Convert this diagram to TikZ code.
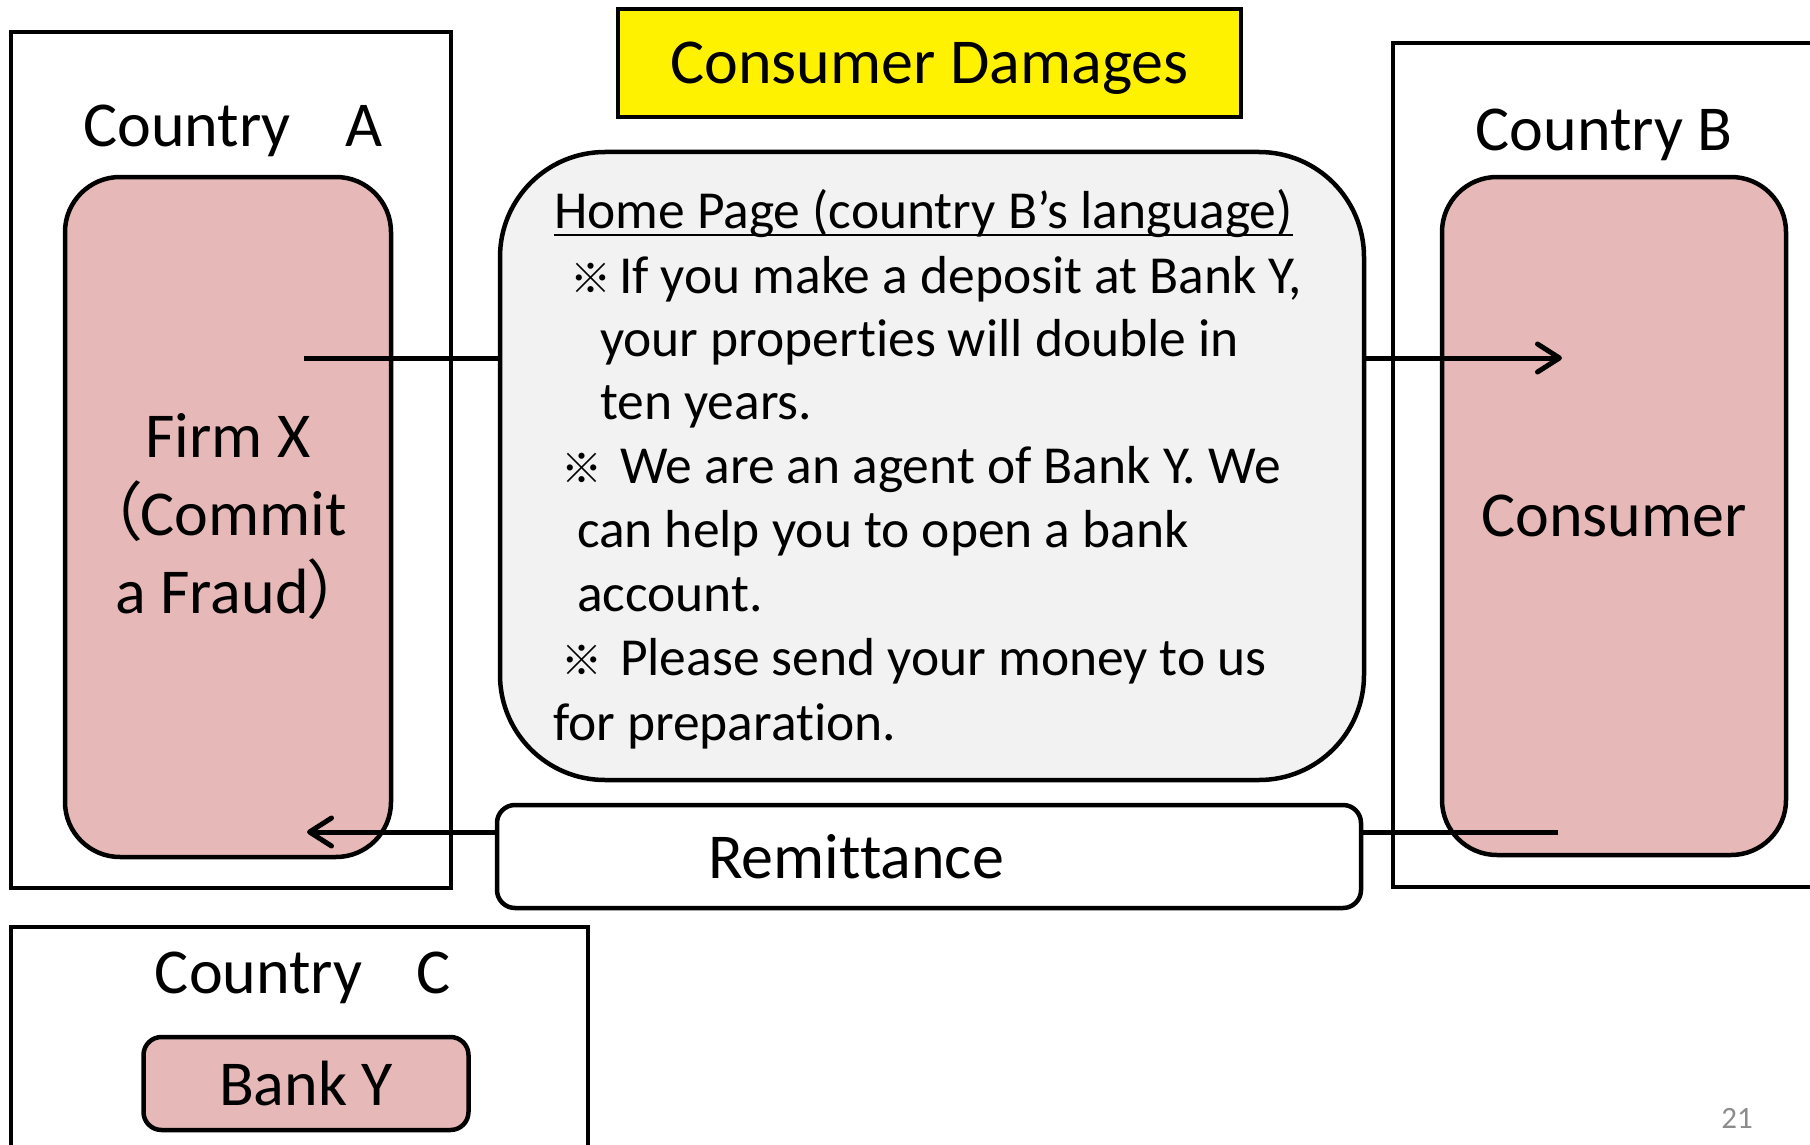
\documentclass[tikz,border=0pt]{standalone}
\usepackage{fontspec}
\setmainfont{Carlito}[Ligatures=NoCommon]
\newfontfamily\cjk{Noto Sans CJK JP}
\newfontfamily\cjkp{Noto Sans CJK JP}[RawFeature=+palt]
\usetikzlibrary{arrows.meta,positioning,calc}
\definecolor{firmpink}{HTML}{E6B9B8}
\definecolor{pagegray}{HTML}{F2F2F2}
\definecolor{numgray}{HTML}{8C8C8C}
\newcommand{\kome}{{\cjk\fontsize{20.5pt}{20pt}\selectfont ※}}

\begin{document}
\begin{tikzpicture}[x=0.5pt,y=-0.5pt,
  every node/.style={inner sep=0pt,outer sep=0pt},
  country/.style={draw,line width=2.25pt,rectangle},
  party/.style={draw,line width=2.25pt,fill=firmpink,rounded corners=27.5pt,
    align=center,font=\fontsize{32pt}{39pt}\selectfont},
  big/.style={font=\fontsize{32pt}{39pt}\selectfont,text depth=0pt},
  hptext/.style={font=\fontsize{26.75pt}{32pt}\selectfont,anchor=base west},
  flow/.style={line width=2.5pt},
  flowarrow/.style={line width=2.5pt,-{Straight Barb[length=11pt,width=14pt,round]}}]
\useasboundingbox (0,0) rectangle (1810,1145);

% countries
\node[country,minimum width=220pt,minimum height=428pt] (ctyA) at (231,460) {};
\node[country,minimum width=218.5pt,minimum height=422pt] (ctyB) at (1611.5,465) {};
\node[country,minimum width=288.5pt,minimum height=131.5pt] (ctyC) at (299.5,1058.5) {};
\node[big,anchor=base] (lblA) at (233,147) {Country\hspace{0.85em}A};
\node[big,anchor=base] (lblB) at (1604,150) {Country B};
\node[big,anchor=base] (lblC) at (303,993) {Country\hspace{0.85em}C};

% parties
\node[party,minimum width=163pt,minimum height=340pt] (firm) at (228,517)
  {Firm X\\{\cjkp （}Commit\\a Fraud{\cjkp ）}};
\node[party,text depth=0pt,minimum width=172pt,minimum height=339pt] (cons) at (1614,516) {Consumer};
\node[party,text depth=0pt,rounded corners=9pt,minimum width=162.5pt,minimum height=46.5pt] (bank) at (306,1083.5) {Bank Y};

% title
\node[draw,line width=2.25pt,fill=yellow,big,minimum width=311.5pt,minimum height=54pt] (dmg) at (929.5,63) {Consumer Damages};

% home page
\node[draw,line width=2.25pt,fill=pagegray,rounded corners=52.5pt,minimum width=432pt,minimum height=314pt] (home) at (932,466) {};
\foreach \dx/\dy/\txt [count=\i] in {
  554/228/{Home Page (country B’s language)},
  570/293/{\kome\hspace{4pt}If you make a deposit at Bank Y,},
  600/356/{your properties will double in},
  600/419/{ten years.},
  561/483/{\kome\hspace{9pt}We are an agent of Bank Y. We},
  577/547/{can help you to open a bank},
  577/611/{account.},
  561/675/{\kome\hspace{9pt}Please send your money to us},
  553/740/{for preparation.}}
  \node[hptext] (hp\i) at (\dx,\dy) {\txt};
\draw[line width=1.1pt] ([yshift=-3.5pt]hp1.base west) -- ([yshift=-3.5pt]hp1.base east);

% remittance
\node[draw,line width=2.25pt,rounded corners=9pt,minimum width=432pt,minimum height=51.5pt] (remit) at (929,856.5) {};
\node[big,anchor=base] (remtxt) at (856,878) {Remittance};

% flows
\coordinate (fxout) at (304,358);
\coordinate (csin) at (1562,358);
\coordinate (csout) at (1558,832);
\coordinate (fxin) at (307,832);
\draw[flow] (fxout) -- (fxout -| home.west);
\draw[flowarrow] (csin -| home.east) -- (csin);
\draw[flow] (csout) -- (csout -| remit.east);
\draw[flowarrow] (fxin -| remit.west) -- (fxin);

\node[font=\fontsize{15.5pt}{18pt}\selectfont,text=numgray,anchor=base] (pgno) at (1737,1128) {21};
\end{tikzpicture}
\end{document}
